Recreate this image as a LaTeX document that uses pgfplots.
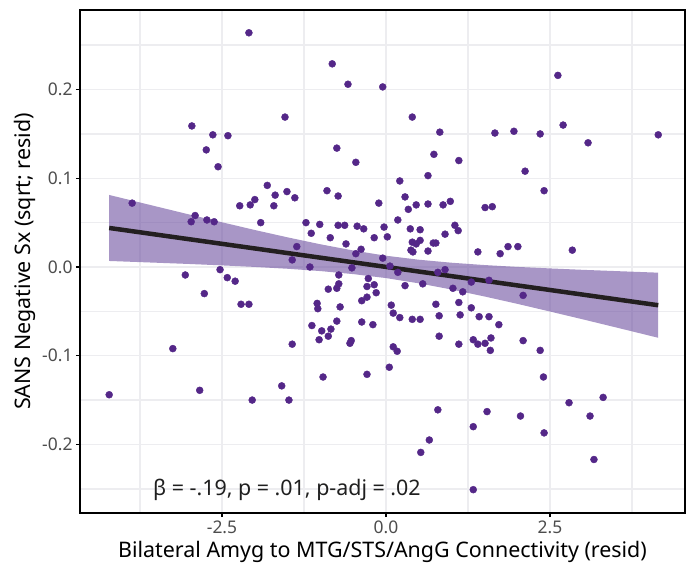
\documentclass[border=0pt]{standalone}
\usepackage{fontspec}
\setmainfont{Noto Sans}
\usepackage{pgfplots}
\pgfplotsset{compat=1.18}
\definecolor{ptpurple}{HTML}{542788}
\definecolor{gridgray}{HTML}{EDEDF0}
\definecolor{fitline}{HTML}{231F20}
\definecolor{ticktext}{HTML}{4D4D4D}

\begin{document}
\begin{tikzpicture}
\path[use as bounding box] (0,0) rectangle (690bp,565bp);
\begin{axis}[
  at={(80bp,52bp)}, anchor=south west,
  scale only axis, width=605bp, height=503bp,
  xmin=-4.665, xmax=4.558, ymin=-0.2773, ymax=0.2897,
  xtick={-2.5,0,2.5}, xticklabels={-2.5,0.0,2.5},
  ytick={-0.2,-0.1,0,0.1,0.2}, yticklabels={-0.2,-0.1,0.0,0.1,0.2},
  minor xtick={-3.75,-1.25,1.25,3.75},
  minor ytick={-0.25,-0.15,-0.05,0.05,0.15,0.25},
  grid=both,
  major grid style={gridgray,line width=1.5bp},
  minor grid style={gridgray,line width=1.5bp},
  axis line style={black,line width=1.4bp},
  tick pos=left, tick align=outside,
  major tick length=4bp, minor tick length=0pt,
  tick style={black,line width=1.2bp},
  tick label style={font=\fontsize{17.5}{19}\selectfont,text=ticktext},
  xticklabel style={yshift=0bp},
  xlabel={Bilateral Amyg to MTG/STS/AngG Connectivity (resid)},
  ylabel={SANS Negative Sx (sqrt; resid)},
  label style={font=\fontsize{21.5}{24}\selectfont,text=black},
  xlabel style={at={(axis description cs:0.5,-0.0775)},anchor=center},
  ylabel style={at={(axis description cs:-0.0909,0.5)},anchor=center},
]
% confidence band
\addplot[draw=none,fill={rgb,255:red,110;green,80;blue,160},fill opacity=0.6] coordinates {
 (-4.22,0.0812) (-3.5,0.0682) (-3,0.0592) (-2.5,0.0504) (-2,0.0417) (-1.5,0.0334)
 (-1,0.0256) (-0.5,0.0186) (0,0.0127) (0.5,0.0082) (1,0.0048) (1.5,0.0022)
 (2,0.0001) (2.5,-0.0016) (3,-0.0032) (3.5,-0.0046) (4.15,-0.0064)
 (4.15,-0.0798) (3.5,-0.0680) (3,-0.0590) (2.5,-0.0502) (2,-0.0415) (1.5,-0.0332)
 (1,-0.0254) (0.5,-0.0184) (0,-0.0125) (-0.5,-0.0080) (-1,-0.0046) (-1.5,-0.0020)
 (-2,0.0001) (-2.5,0.0018) (-3,0.0034) (-3.5,0.0048) (-4.22,0.0068)} -- cycle;
% fitted line
\addplot[fitline,line width=4.5bp] coordinates {(-4.22,0.0440) (4.15,-0.0431)};
% points
\addplot[only marks,mark=*,mark size=3.5bp,color=ptpurple] table {
x y
-2.09 0.264
-2.96 0.159
-2.64 0.149
-2.41 0.148
-2.74 0.132
-2.56 0.113
-0.82 0.229
-0.58 0.206
-0.05 0.203
-1.54 0.169
0.40 0.169
0.82 0.152
-0.75 0.134
-0.46 0.118
0.73 0.127
1.11 0.120
0.21 0.097
0.64 0.103
2.62 0.216
2.70 0.160
1.66 0.151
1.95 0.153
2.35 0.150
3.08 0.140
4.15 0.149
2.12 0.108
-3.87 0.072
-1.81 0.092
-1.69 0.081
-2.00 0.076
-2.07 0.070
-2.23 0.069
-1.71 0.069
-2.91 0.058
-2.97 0.051
-2.73 0.053
-2.62 0.051
-1.91 0.050
-2.53 -0.003
-3.06 -0.009
-2.42 -0.012
-2.30 -0.016
-2.77 -0.030
-2.21 -0.042
-2.09 -0.042
-1.51 0.085
-1.39 0.078
-0.90 0.086
-0.73 0.080
-0.11 0.072
0.29 0.079
0.46 0.070
0.64 0.071
0.34 0.065
0.87 0.070
0.98 0.074
-1.22 0.050
-1.01 0.048
-0.73 0.047
-0.63 0.047
-0.44 0.046
-0.34 0.043
-0.03 0.045
0.18 0.053
0.37 0.043
0.52 0.042
1.05 0.047
1.10 0.041
0.90 0.037
-1.14 0.038
-0.85 0.033
-0.18 0.033
0.02 0.034
0.40 0.028
0.46 0.026
0.52 0.030
0.72 0.027
0.76 0.027
-0.61 0.026
-1.36 0.023
-0.38 0.020
0.38 0.019
0.41 0.017
0.64 0.018
-0.46 0.015
1.40 0.017
-1.43 0.008
-0.05 0.010
-1.16 0.000
-0.52 -0.001
0.06 0.001
0.18 -0.006
0.79 -0.006
0.90 -0.003
-0.72 -0.009
-0.27 -0.013
1.30 -0.017
-0.72 -0.019
-0.75 -0.024
-0.88 -0.025
-0.18 -0.020
-0.29 -0.022
-0.15 -0.029
0.29 -0.021
0.56 -0.019
1.02 -0.024
1.17 -0.028
-0.29 -0.034
-0.37 -0.038
-1.05 -0.041
-1.04 -0.047
-0.70 -0.045
0.08 -0.043
0.76 -0.042
1.11 -0.040
1.30 -0.046
0.11 -0.052
0.21 -0.057
0.40 -0.059
0.52 -0.059
0.81 -0.055
1.13 -0.054
1.42 -0.056
-0.75 -0.061
-0.37 -0.062
-0.20 -0.065
-1.13 -0.066
-0.84 -0.070
-0.98 -0.072
-0.88 -0.078
-1.02 -0.082
-0.53 -0.083
0.81 -0.078
1.33 -0.082
2.41 0.086
1.51 0.067
1.62 0.068
1.74 0.015
1.86 0.023
2.01 0.023
2.84 0.019
1.57 -0.015
2.09 -0.032
1.57 -0.056
1.72 -0.065
1.40 -0.087
1.51 -0.086
1.60 -0.080
1.59 -0.094
2.09 -0.083
2.35 -0.094
2.40 -0.124
1.54 -0.163
1.33 -0.180
2.05 -0.168
2.41 -0.187
2.79 -0.153
3.11 -0.168
3.31 -0.147
3.17 -0.217
1.33 -0.251
-1.43 -0.087
-0.55 -0.086
0.11 -0.090
0.17 -0.095
1.11 -0.087
-1.59 -0.134
-1.48 -0.150
-0.96 -0.124
-0.29 -0.121
0.05 -0.113
0.79 -0.161
0.66 -0.195
0.53 -0.209
-3.25 -0.092
-4.22 -0.144
-2.84 -0.139
-2.04 -0.150
};
\node[font=\fontsize{21.5}{24}\selectfont,text=black!88] at (axis cs:-1.51,-0.251) {β = -.19, p = .01, p-adj = .02};
\end{axis}
\end{tikzpicture}
\end{document}
